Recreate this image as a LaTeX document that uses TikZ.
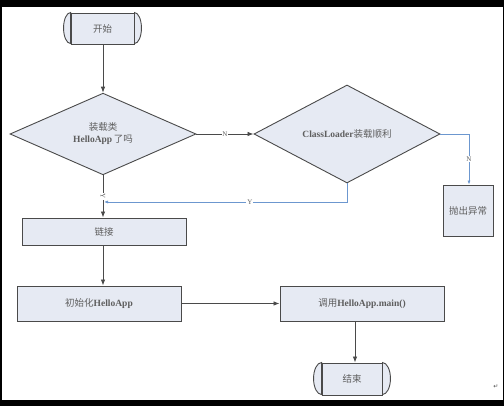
\documentclass[tikz,border=0pt]{standalone}
\usepackage{fontspec}
\setmainfont{Liberation Serif}
\newfontfamily\cjkfont{Noto Sans CJK SC}
\newfontfamily\symfont{DejaVu Sans}
\newcommand\zh[1]{{\cjkfont #1}}
\usetikzlibrary{shapes.geometric,arrows.meta}
\definecolor{boxfill}{HTML}{E6EAF3}
\definecolor{edge}{HTML}{4A4A4A}
\definecolor{bluel}{HTML}{6C97CF}
\definecolor{txt}{HTML}{5E5E5E}
\begin{document}
\begin{tikzpicture}[x=1pt,y=1pt,
  base/.style={draw=edge, line width=0.9pt, fill=boxfill, text=txt,
    font=\fontsize{9.5}{12}\selectfont, inner sep=1pt, align=center},
  proc/.style 2 args={base, rectangle, minimum width=#1, minimum height=#2},
  decide/.style={base, diamond, minimum width=186, minimum height=68, inner sep=0pt},
  term/.style 2 args={base, rectangle, minimum width=#1, minimum height=#2},
  endcap/.style={draw=edge, line width=0.9pt, fill=boxfill},
  conn/.style={draw=edge, line width=0.8pt, -{Latex[length=6pt,width=4.5pt]}},
  bconn/.style={draw=bluel, line width=0.7pt, -{Latex[length=4pt,width=3pt]}},
  lbl/.style={fill=white, text=txt, inner sep=0.8pt, font=\fontsize{7}{8}\selectfont}]
% page
\fill[black] (0,0) rectangle (504,406);
\fill[white] (2,6) rectangle (503,399);
\useasboundingbox (0,0) rectangle (504,406);

% nodes
\node[term={63}{31}] (s) at (102.5,377.5) {\zh{开始}};
\draw[endcap] (s.north west) arc[start angle=90, end angle=270, x radius=7, y radius=15.5] -- cycle;
\draw[endcap] (s.north east) arc[start angle=90, end angle=-90, x radius=7, y radius=15.5] -- cycle;

\node[decide] (d1) at (103,272) {\zh{装载类}\\\textbf{HelloApp}\,\zh{了吗}};
\node[decide] (d2) at (347,272) {\textbf{ClassLoader}\zh{装载顺利}};
\node[proc={50}{51}] (ex) at (468,195.5) {\zh{抛出异常}};
\node[proc={164}{27}] (ln) at (104,174.5) {\zh{链接}};
\node[proc={164}{35}] (in) at (99,102.5) {\zh{初始化}\textbf{HelloApp}};
\node[proc={164}{35}] (ca) at (362,102.5) {\zh{调用}\textbf{HelloApp.main()}};
\node[term={60}{32}] (e) at (352,27) {\zh{结束}};
\draw[endcap] (e.north west) arc[start angle=90, end angle=270, x radius=8, y radius=16] -- cycle;
\draw[endcap] (e.north east) arc[start angle=90, end angle=-90, x radius=8, y radius=16] -- cycle;

\node[text=edge, font=\symfont\fontsize{6}{6}\selectfont] (pm) at (496,19) {↵};

% connectors
\draw[conn] (s.south -| d1.north) -- (d1.north);
\draw[conn] (d1.east) -- node[lbl] (n1) {N} (d2.west);
\draw[conn] (d1.south) -- node[lbl, pos=0.5, rotate=-90] (y1) {Y} (d1.south |- ln.north);
\draw[conn] (d1.south |- ln.south) -- (d1.south |- in.north);
\draw[conn] (in.east) -- (ca.west);
\coordinate (cb) at (355,0);
\draw[conn] (cb |- ca.south) -- (cb |- e.north);

\coordinate (r1) at (469,272);
\draw[bconn] (d2.east) -- (r1) -- node[lbl, text=txt] (n2) {N} (r1 |- ex.north);
\coordinate (r2) at (347,204);
\draw[bconn] (d2.south) -- (r2) -- node[lbl, pos=0.4] (y2) {Y} (104,204);
\end{tikzpicture}
\end{document}
